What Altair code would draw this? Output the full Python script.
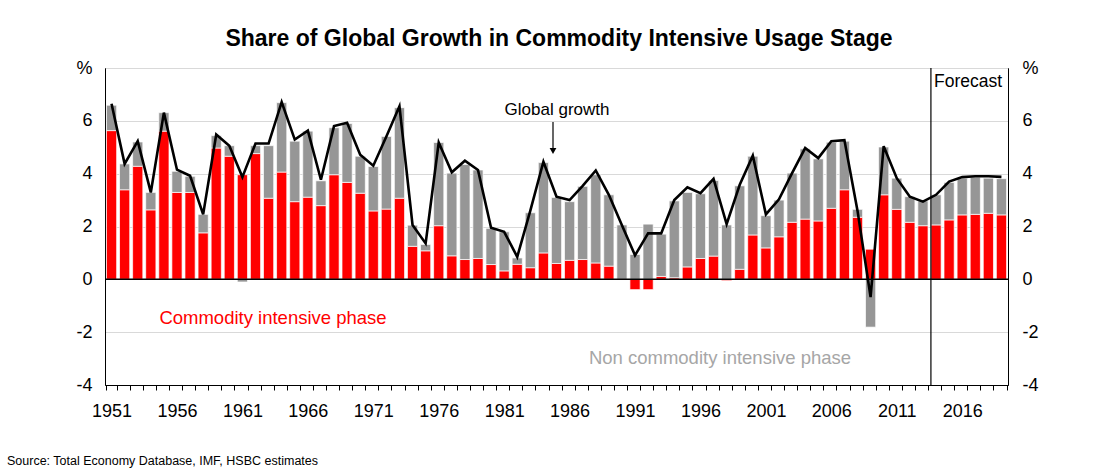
import altair as alt
import pandas as pd

# Years covered by the series (2014 onwards are forecasts)
years = list(range(1951, 2020))
forecast_start = 2014

# Contribution to global growth from economies in the commodity intensive phase (%)
commodity_intensive = [
    5.63, 3.39, 4.28, 2.63, 5.61, 3.29, 3.29, 1.76, 4.97, 4.66,
    3.96, 4.76, 3.07, 4.06, 2.94, 3.11, 2.79, 3.96, 3.67, 3.26,
    2.59, 2.66, 3.07, 1.25, 1.08, 2.03, 0.89, 0.75, 0.79, 0.56,
    0.32, 0.57, 0.44, 1.00, 0.60, 0.72, 0.75, 0.62, 0.50, 0.00,
    -0.39, -0.39, 0.11, 0.06, 0.47, 0.79, 0.88, -0.05, 0.38, 1.68,
    1.19, 1.61, 2.16, 2.28, 2.21, 2.69, 3.39, 2.35, 1.14, 3.20,
    2.65, 2.16, 2.03, 2.06, 2.25, 2.44, 2.46, 2.50, 2.44,
]

# Contribution from economies in the non commodity intensive phase (%)
non_commodity_intensive = [
    0.96, 0.98, 0.92, 0.66, 0.70, 0.80, 0.61, 0.70, 0.47, 0.40,
    -0.10, 0.30, 1.99, 2.63, 2.29, 2.50, 0.94, 1.78, 2.23, 1.40,
    1.68, 2.75, 3.43, 0.80, 0.24, 3.15, 3.13, 3.60, 3.35, 1.37,
    1.48, 0.24, 2.08, 3.42, 2.50, 2.22, 2.77, 3.34, 2.70, 2.06,
    0.94, 2.09, 1.60, 2.91, 2.82, 2.45, 2.86, 2.06, 3.16, 2.98,
    1.22, 1.39, 1.86, 2.66, 2.35, 2.50, 1.84, 0.30, -1.81, 1.81,
    1.18, 0.97, 0.94, 1.14, 1.42, 1.39, 1.41, 1.33, 1.37,
]

# Global growth (%)
global_growth = [
    6.65, 4.37, 5.23, 3.29, 6.31, 4.15, 3.92, 2.46, 5.48, 5.06,
    3.87, 5.14, 5.14, 6.71, 5.29, 5.63, 3.77, 5.80, 5.93, 4.72,
    4.30, 5.41, 6.55, 2.06, 1.36, 5.18, 4.05, 4.49, 4.14, 1.95,
    1.80, 0.85, 2.60, 4.45, 3.13, 3.00, 3.54, 4.12, 3.20, 2.05,
    0.91, 1.74, 1.74, 3.00, 3.48, 3.26, 3.80, 2.09, 3.58, 4.68,
    2.46, 3.03, 4.02, 4.97, 4.59, 5.23, 5.27, 2.60, -0.67, 5.04,
    3.83, 3.13, 2.94, 3.20, 3.70, 3.87, 3.90, 3.90, 3.88,
]

phases = ["Commodity intensive phase", "Non commodity intensive phase"]
phase_colors = ["#ff0000", "#969696"]
y_ticks = [-4, -2, 0, 2, 4, 6, 8]

FONT = "Liberation Sans"
W, H = 903, 317

bars_df = pd.DataFrame(
    [{"year": y, "phase": phases[0], "rank": 0, "value": c}
     for y, c in zip(years, commodity_intensive)]
    + [{"year": y, "phase": phases[1], "rank": 1, "value": n}
       for y, n in zip(years, non_commodity_intensive)]
)
growth_df = pd.DataFrame({"year": years, "growth": global_growth})

x_scale = alt.Scale(domain=years, paddingInner=0.22, paddingOuter=0.11)
y_scale = alt.Scale(domain=[-4, 8], nice=False, zero=False)
y_label_expr = "datum.value == 8 ? '%' : '' + datum.value"

x_axis = alt.Axis(
    title=None, labelAngle=0, labelFontSize=18, labelColor="#000000",
    labelExpr="(datum.value - 1951) % 5 == 0 ? '' + datum.value : ''",
    labelOverlap=False, labelPadding=12, tickBand="extent", ticks=True,
    tickSize=5, tickColor="#000000", domainColor="#000000", grid=False,
)

bars = alt.Chart(bars_df).mark_bar(stroke="white", strokeWidth=0.7).encode(
    x=alt.X("year:O", scale=x_scale, axis=x_axis),
    y=alt.Y("value:Q", stack="zero", scale=y_scale,
            axis=alt.Axis(orient="left", title=None, values=y_ticks,
                          labelExpr=y_label_expr, labelFontSize=18,
                          labelColor="#000000", labelPadding=13, ticks=False,
                          domainColor="#000000", grid=True,
                          gridColor="#d9d9d9", gridWidth=1)),
    color=alt.Color("phase:N", scale=alt.Scale(domain=phases, range=phase_colors),
                    legend=None),
    order=alt.Order("rank:Q"),
)

zero_line = alt.Chart(pd.DataFrame({"v": [0]})).mark_rule(
    color="#000000", strokeWidth=1.5
).encode(y=alt.Y("v:Q", scale=y_scale, axis=None))

forecast_line = alt.Chart(pd.DataFrame({"year": [forecast_start]})).mark_rule(
    color="#000000", strokeWidth=1.2
).encode(x=alt.X("year:O", scale=x_scale, bandPosition=0))

growth_line = alt.Chart(growth_df).mark_line(
    color="#000000", strokeWidth=2.6
).encode(
    x=alt.X("year:O", scale=x_scale),
    y=alt.Y("growth:Q", scale=y_scale,
            axis=alt.Axis(orient="right", title=None, values=y_ticks,
                          labelExpr=y_label_expr, labelFontSize=18,
                          labelColor="#000000", labelPadding=14, ticks=False,
                          domainColor="#000000", grid=False)),
)

one = pd.DataFrame({"k": [0]})


def note(text, x, y, size=18, color="#000000", weight="normal", align="center",
         baseline="middle"):
    return alt.Chart(one).mark_text(
        text=text, font=FONT, fontSize=size, color=color, fontWeight=weight,
        align=align, baseline=baseline,
    ).encode(x=alt.value(x), y=alt.value(y))


title = note("Share of Global Growth in Commodity Intensive Usage Stage",
             454, -22, size=23, weight="bold", baseline="alphabetic")
growth_label = note("Global growth", 452, 42, size=17)
arrow_shaft = alt.Chart(one).mark_rule(color="#000000", strokeWidth=1.2).encode(
    x=alt.value(448), y=alt.value(54), y2=alt.value(82))
arrow_head = alt.Chart(one).mark_point(
    shape="triangle-down", filled=True, size=45, color="#000000", opacity=1
).encode(x=alt.value(448), y=alt.value(83))
commodity_label = note(phases[0], 168, 250, size=18.5, color="#ff0000")
non_commodity_label = note(phases[1], 615, 290, size=18.5, color="#a6a6a6")
forecast_label = note("Forecast", 829, 14, size=17.5, align="left")
source = note("Source: Total Economy Database, IMF, HSBC estimates",
              -98, 387, size=12.5, align="left", baseline="top")

chart = alt.layer(
    bars, zero_line, forecast_line, growth_line,
    title, growth_label, arrow_shaft, arrow_head,
    commodity_label, non_commodity_label, forecast_label, source,
).resolve_axis(
    y="independent"
).properties(
    width=W, height=H,
    autosize=alt.AutoSizeParams(type="none"),
    padding={"left": 105, "top": 68, "right": 99, "bottom": 83},
).configure(
    font=FONT,
).configure_view(
    stroke="#000000", strokeWidth=1,
)

chart.save("out.html", embed_options={"renderer": "svg", "actions": False})
